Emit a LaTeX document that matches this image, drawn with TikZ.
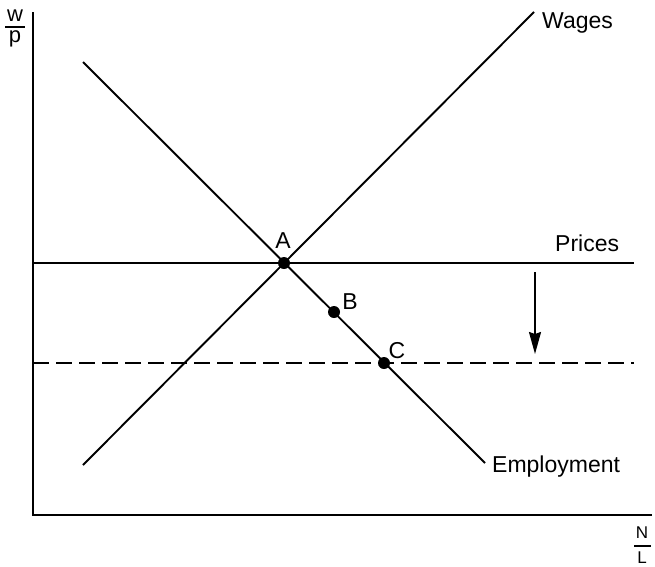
\documentclass[tikz,border=0pt]{standalone}
\usepackage{fontspec}
\setmainfont{Liberation Sans}
\usetikzlibrary{arrows.meta}
\begin{document}
\begin{tikzpicture}[x=1pt,y=-1pt,
  curve/.style={line width=1.9pt},
  axis/.style={line width=1.7pt},
  lbl/.style={font=\fontsize{23}{25}\selectfont, inner sep=0pt},
  axlbl/.style={font=\fontsize{17}{19}\selectfont, inner sep=0pt},
  wplbl/.style={font=\fontsize{22}{24}\selectfont, inner sep=0pt},
  dot/.style={circle, fill=black, inner sep=0pt, minimum size=12pt}]
\useasboundingbox (0,0) rectangle (655,566);
% axes
\coordinate (O) at (33,515);
\coordinate (Ytop) at (33,12);
\coordinate (Xend) at (652,515);
\draw[axis] (Ytop) -- (O) -- (Xend);
% axis labels
\node[wplbl, anchor=base] (wl) at (15,21) {w};
\node[wplbl, anchor=base] (pl) at (15,42) {p};
\draw[line width=1.8pt] (5,27) -- (25,27);
\node[axlbl, anchor=base] (nl) at (642,538) {N};
\node[axlbl, anchor=base] (ll) at (642,563) {L};
\draw[line width=1.7pt] (634,546) -- (651,546);
% curves
\coordinate (W0) at (83,465);
\coordinate (W1) at (534,12);
\coordinate (E0) at (83,62);
\coordinate (E1) at (485,463);
\draw[curve] (W0) -- (W1);
\draw[curve] (E0) -- (E1);
\coordinate (P0) at (33,263);
\coordinate (P1) at (634,263);
\draw[curve] (P0) -- (P1);
\coordinate (D0) at (33,363);
\coordinate (D1) at (634,363);
\draw[curve, dash pattern=on 16pt off 7pt] (D0) -- (D1);
% arrow
\coordinate (Ar0) at (535,272);
\coordinate (Ar1) at (535,354);
\draw[line width=1.8pt, -{Stealth[length=22pt,width=12pt,inset=2pt]}] (Ar0) -- (Ar1);
% points
\node[dot] (A) at (284,263) {};
\node[dot] (B) at (334,312) {};
\node[dot] (C) at (384,363) {};
\node[lbl] (Al) at (283,241) {A};
\node[lbl] (Bl) at (350,302) {B};
\node[lbl] (Cl) at (397,351) {C};
% curve labels
\node[lbl, anchor=west] (wages) at (542,23) {Wages};
\node[lbl, anchor=west] (prices) at (555,243) {Prices};
\node[lbl, anchor=west] (emp) at (492,467) {Employment};
\end{tikzpicture}
\end{document}
